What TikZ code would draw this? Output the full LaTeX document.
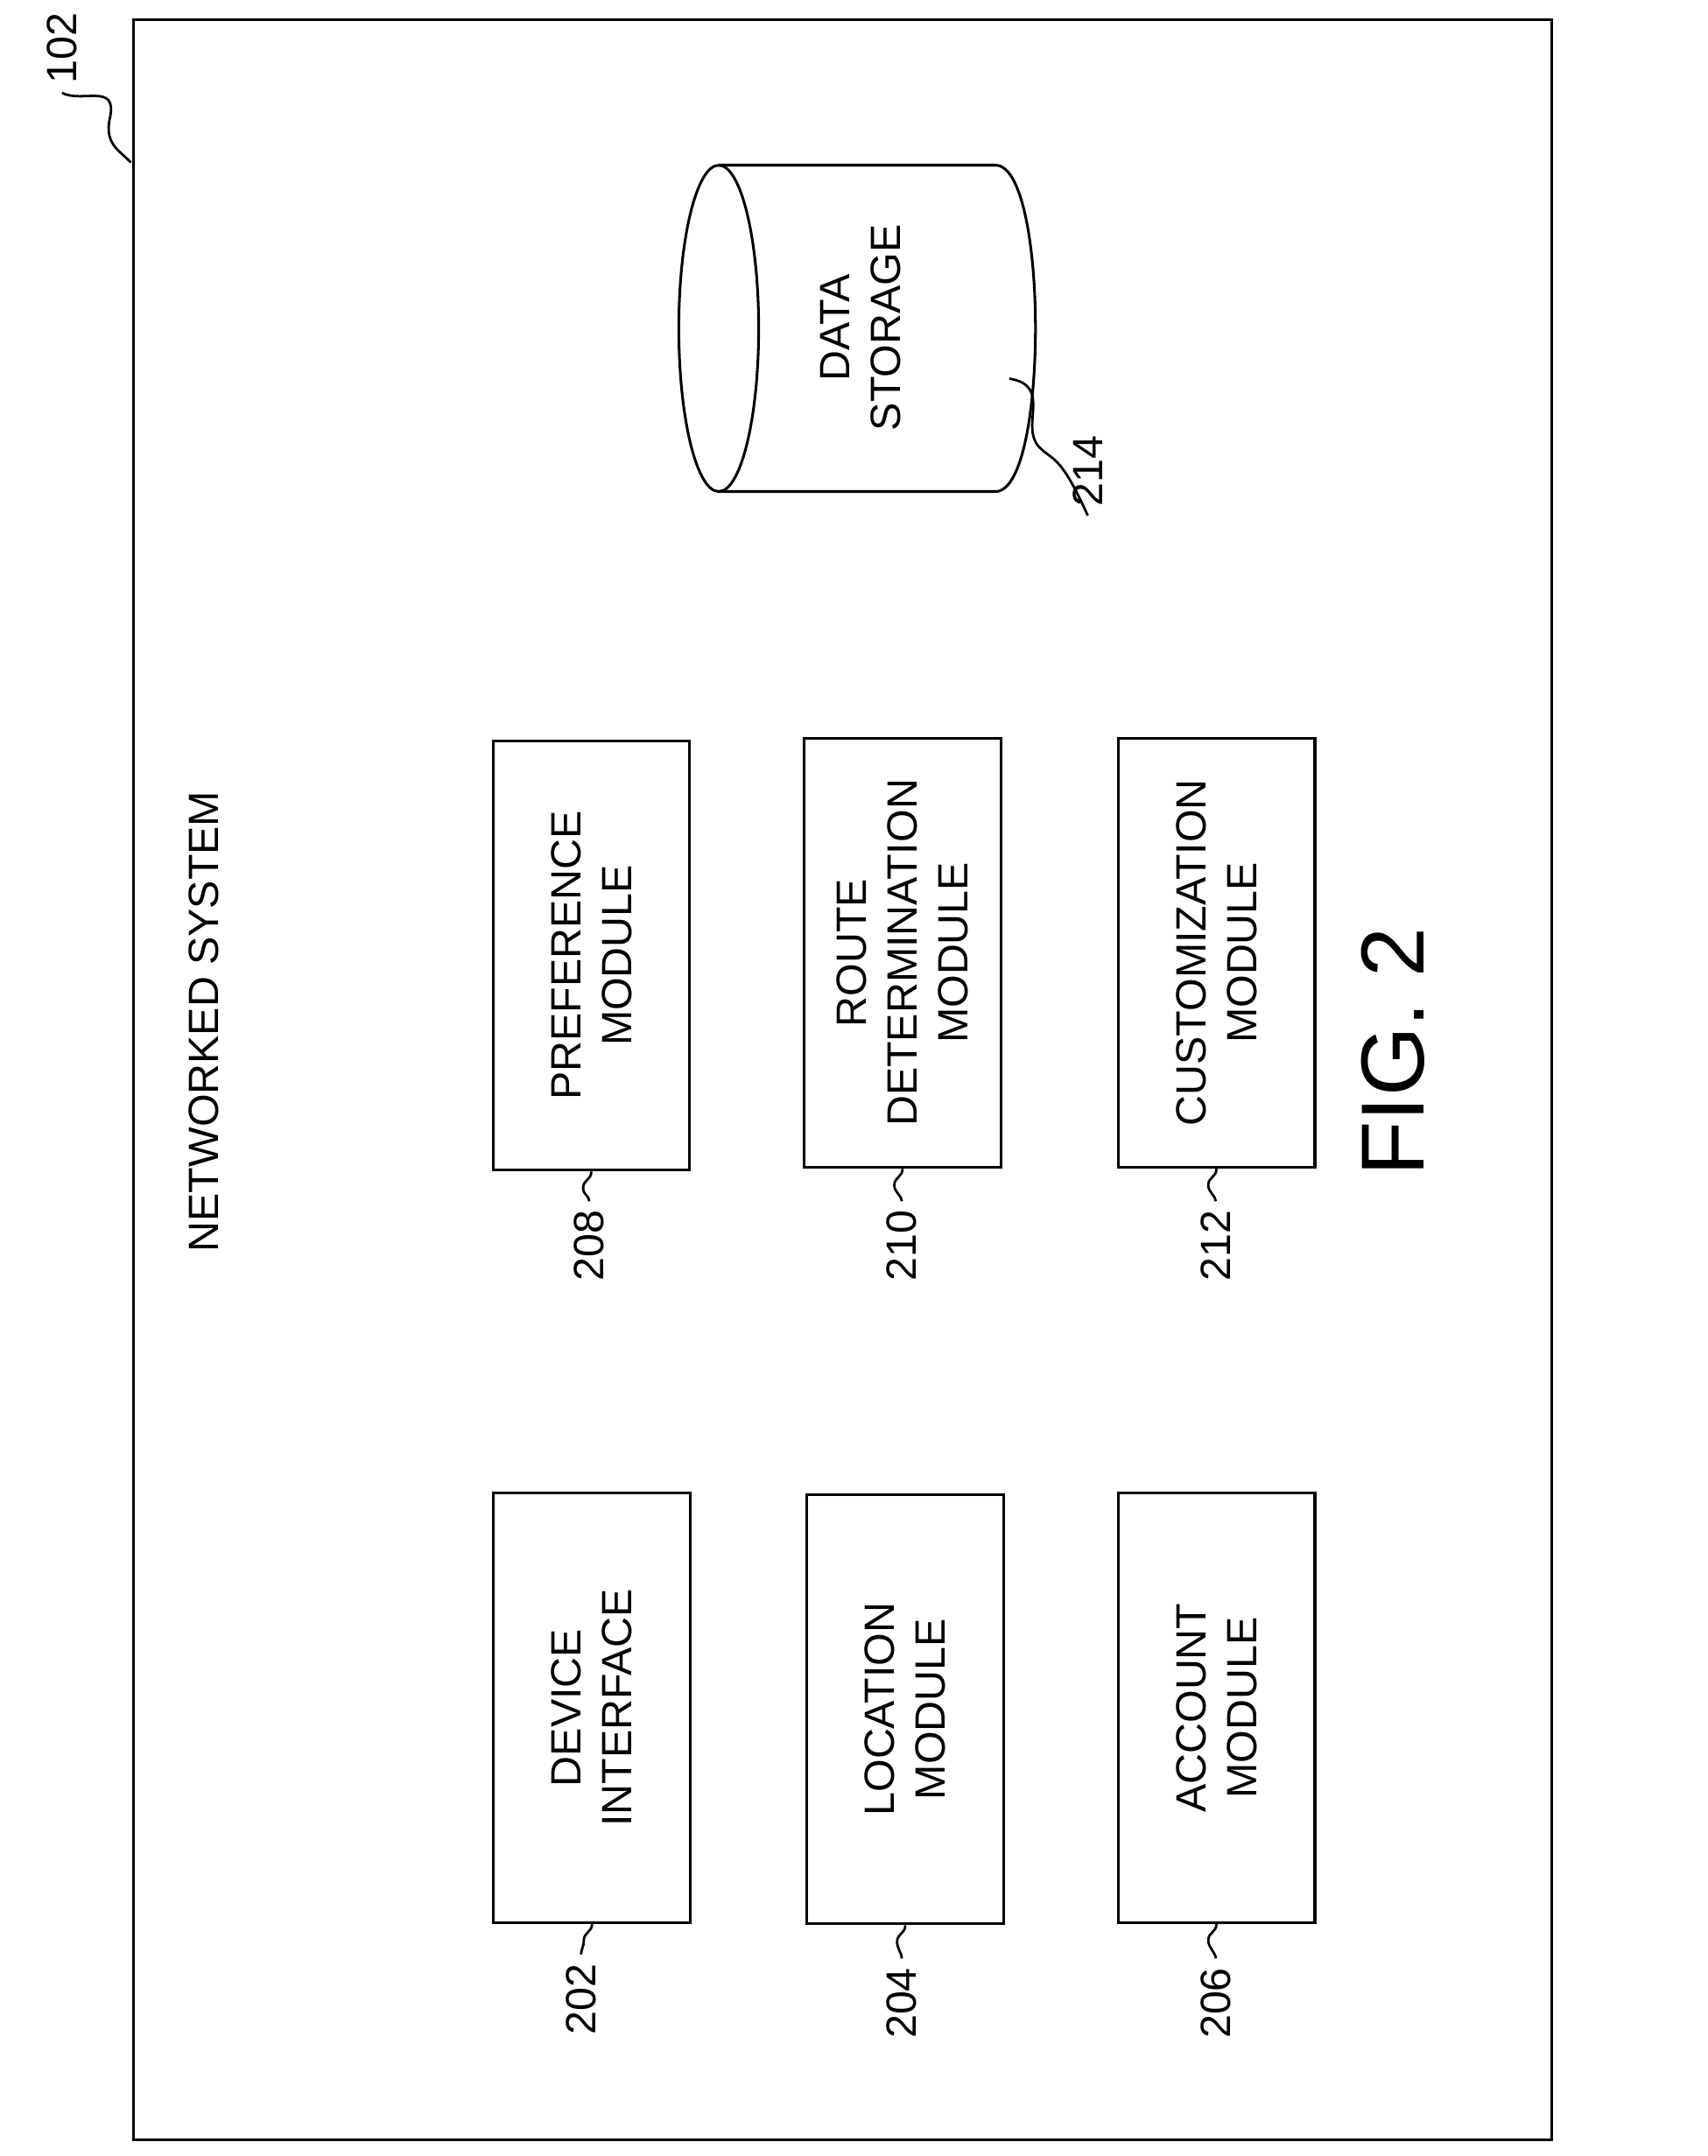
\documentclass[tikz,border=0pt]{standalone}
\usepackage{fontspec}
\setmainfont{Liberation Sans}
\begin{document}
\begin{tikzpicture}[x=0.02cm,y=-0.02cm,line width=1.1pt,
  box/.style={draw,minimum width=6.24cm,minimum height=2.86cm,align=center,rotate=90,font=\fontsize{17.5}{21}\selectfont,line width=1.1pt},
  lab/.style={rotate=90,font=\fontsize{17.5}{21}\selectfont},
  lead/.style={line width=1pt}]
\useasboundingbox (0,0) rectangle (1240,1566);
\draw (97,14) rectangle (1127,1554);
\node[lab] (n102) at (45,35) {102};
\coordinate (c102) at (95,118);
\draw[lead] (n102.west) .. controls (60,75) and (85,60) .. (80,85) .. controls (75,105) and (88,110) .. (c102);
\node[lab] (title) at (148,742) {NETWORKED SYSTEM};
% cylinder
\draw (522,120) -- (723,120) .. controls (761.7,120) and (761.7,357) .. (723,357) -- (522,357);
\draw (522,238.5) ellipse[x radius=29,y radius=118.5];
\node[lab,align=center] (ds) at (625,238) {DATA\\STORAGE};
\coordinate (c214) at (733,275);
\node[lab] (n214) at (790,342) {214};
\draw[lead] (c214) .. controls (765,280) and (740,310) .. (755,325) .. controls (765,335) and (770,330) .. (n214.west);
% boxes
\node[box] (b208) at (429.5,694) {PREFERENCE\\MODULE};
\node[box] (b210) at (655.5,692) {ROUTE\\DETERMINATION\\MODULE};
\node[box] (b212) at (883.5,692) {CUSTOMIZATION\\MODULE};
\node[box] (b202) at (430,1240.5) {DEVICE\\INTERFACE};
\node[box] (b204) at (657.5,1241.5) {LOCATION\\MODULE};
\node[box] (b206) at (883.5,1240.5) {ACCOUNT\\MODULE};
\foreach \b/\n/\x/\y in {b208/208/428/905, b210/210/655/905, b212/212/883/905, b202/202/422/1452, b204/204/655/1455, b206/206/883/1455}{
  \node[lab] (n\n) at (\x,\y) {\n};
  \draw[lead] (\b.west) .. controls ++(0,6) and ++(0,-6) .. ++(-6,12) .. controls ++(0,5) and ++(0,-4) .. (n\n.east);
}
\node[rotate=90,font=\fontsize{37}{43}\selectfont] (fig) at (1012,764) {FIG. 2};
\end{tikzpicture}
\end{document}
